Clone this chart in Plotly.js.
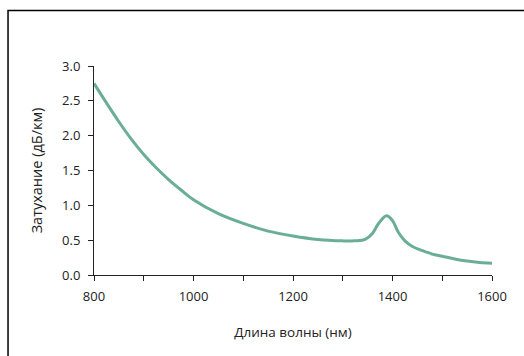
<!DOCTYPE html>
<html>
<head>
<meta charset="utf-8">
<script src="https://cdn.plot.ly/plotly-3.0.1.min.js"></script>
<style>html,body{margin:0;padding:0;background:#fff;}#chart{width:524px;height:356px;}</style>
</head>
<body>
<div id="chart"></div>
<script>
// Wavelength (nm)
var wavelength = [800, 825, 850, 875, 900, 925, 950, 975, 1000, 1050, 1100, 1150, 1200, 1250, 1300, 1325, 1345, 1360, 1372, 1388, 1400, 1412, 1425, 1440, 1460, 1480, 1500, 1525, 1550, 1575, 1600];
// Attenuation (dB/km)
var attenuation = [2.75, 2.47, 2.20, 1.95, 1.73, 1.54, 1.37, 1.22, 1.08, 0.88, 0.74, 0.63, 0.56, 0.51, 0.49, 0.49, 0.51, 0.60, 0.74, 0.85, 0.78, 0.61, 0.49, 0.41, 0.35, 0.30, 0.27, 0.23, 0.20, 0.18, 0.17];
var xTickVals = [800, 1000, 1200, 1400, 1600];
var xTickText = ["800", "1000", "1200", "1400", "1600"];
var yTickVals = [0, 0.5, 1, 1.5, 2, 2.5, 3];
var yTickText = ["0.0", "0.5", "1.0", "1.5", "2.0", "2.5", "3.0"];
var titleText = "Затухание оптического волокна (кварцевое волокно)";
var xTitle = "Длина волны (нм)";
var yTitle = "Затухание (дБ/км)";

var font = "Open Sans, Noto Sans, sans-serif";
var trace = {
  x: wavelength, y: attenuation, type: "scatter", mode: "lines",
  line: {color: "#6aae94", width: 3, shape: "spline", smoothing: 1},
  hoverinfo: "skip"
};
var layout = {
  width: 524, height: 356,
  margin: {l: 94, r: 32, t: 66, b: 81, pad: 0},
  paper_bgcolor: "#ffffff", plot_bgcolor: "#ffffff",
  showlegend: false,
  font: {family: font, size: 13, color: "#222222"},
  xaxis: {
    range: [800, 1600], fixedrange: true,
    tickmode: "array", tickvals: xTickVals, ticktext: xTickText,
    ticks: "outside", ticklen: 5, tickwidth: 1, tickcolor: "#222222",
    ticklabelstandoff: 4,
    minor: {tickmode: "linear", tick0: 800, dtick: 100, ticks: "outside", ticklen: 5, tickwidth: 1, tickcolor: "#222222", showgrid: false},
    showline: true, linecolor: "#222222", linewidth: 1,
    showgrid: false, zeroline: false,
    tickfont: {family: font, size: 13, color: "#222222"},
    title: {text: xTitle, font: {family: font, size: 13.5, color: "#222222"}, standoff: 23}
  },
  yaxis: {
    range: [0, 3], fixedrange: true,
    tickmode: "array", tickvals: yTickVals, ticktext: yTickText,
    ticks: "outside", ticklen: 5, tickwidth: 1, tickcolor: "#222222",
    ticklabelstandoff: 5,
    showline: true, linecolor: "#222222", linewidth: 1,
    showgrid: false, zeroline: false,
    tickfont: {family: font, size: 13, color: "#222222"},
    title: {text: yTitle, font: {family: font, size: 14.5, color: "#222222"}, standoff: 16}
  },
  shapes: [{
    type: "rect", xref: "paper", yref: "paper",
    x0: -0.216, x1: 1.12, y0: -0.45, y1: 1.265,
    line: {color: "#000000", width: 1.5}, fillcolor: "rgba(0,0,0,0)", layer: "below"
  }],
  annotations: [{
    text: "<b>" + titleText + "</b>", xref: "paper", yref: "paper",
    x: 0.42, y: 1.309, xanchor: "center", yanchor: "bottom", showarrow: false,
    borderpad: 0, font: {family: font, size: 16, color: "#1a73c4"}
  }]
};
Plotly.newPlot("chart", [trace], layout, {staticPlot: true, displayModeBar: false});
</script>
</body>
</html>
